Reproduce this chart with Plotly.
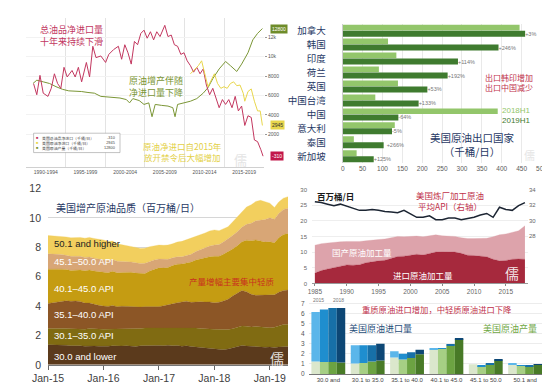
import plotly.graph_objects as go
import pandas as pd

W, H = 550, 389
def fx(p): return p / W
def fy(p): return 1 - p / H

CJK = "Noto Sans CJK SC, Arial"
LAT = "Arial, Liberation Sans, Noto Sans CJK SC"

# ---------------- Panel 1: net imports / production (kb/d) ----------------
red_years = [1990.97, 1991.37, 1991.77, 1992.18, 1992.78, 1993.19, 1993.59, 1993.99, 1994.40, 1994.80,
             1995.20, 1995.81, 1996.21, 1996.61, 1997.02, 1997.62, 1998.02, 1998.43, 1998.83, 1999.44,
             2000.04, 2000.44, 2001.05, 2001.65, 2002.06, 2002.46, 2002.86, 2003.27, 2003.67, 2004.07,
             2004.48, 2004.88, 2005.28, 2005.69, 2006.09, 2006.49, 2006.90, 2007.50, 2007.90, 2008.31,
             2008.71, 2009.11, 2009.52, 2009.92, 2010.32, 2010.73, 2011.13, 2011.53, 2011.94, 2012.34,
             2012.74, 2013.15, 2013.55, 2013.95, 2014.35, 2014.76, 2015.16, 2015.56, 2015.97, 2016.37,
             2016.77, 2017.18, 2017.58, 2017.98, 2018.39, 2018.79, 2019.19, 2019.60, 2019.88]
red_vals = [7200, 6070, 8070, 6230, 5900, 6730, 8230, 7230, 6730, 8900,
            7900, 8570, 7900, 8900, 7400, 9400, 7900, 11070, 9900, 10070,
            9400, 10230, 10730, 11070, 9730, 11230, 10400, 9230, 11570, 11230,
            12400, 12730, 11900, 12570, 11730, 12570, 12070, 13230, 12070, 12230,
            11230, 11070, 10230, 10400, 9570, 9070, 8400, 8900, 8230, 8730,
            7070, 6070, 6730, 5730, 4730, 5570, 5070, 5570, 4730, 5900,
            4400, 4900, 2900, 3900, 3730, 1400, 1230, 400, -270]
green_years = [1990.89, 1991.37, 1992.18, 1992.98, 1993.79, 1994.60, 1995.40, 1996.21, 1997.02, 1997.82,
               1998.63, 1999.44, 2000.24, 2001.05, 2001.85, 2002.66, 2003.06, 2003.47, 2004.27, 2004.88,
               2005.48, 2005.89, 2006.29, 2007.10, 2007.90, 2008.51, 2008.79, 2009.11, 2009.92, 2010.73,
               2011.53, 2012.34, 2012.94, 2013.55, 2014.35, 2015.16, 2015.77, 2016.57, 2017.18, 2017.98,
               2018.59, 2019.19, 2019.80]
green_vals = [7230, 7570, 7400, 7230, 6900, 6630, 6470, 6470, 6400, 6300,
              6230, 5900, 5830, 5730, 5730, 5570, 5230, 5670, 5470, 5070,
              5230, 3800, 5070, 4970, 4900, 4730, 3800, 5070, 5230, 5400,
              5670, 6230, 6800, 7730, 8730, 9500, 9070, 8470, 9230, 10400,
              11730, 12400, 12900]
yellow_years = [2010.73, 2011.33, 2011.73, 2012.14, 2012.54, 2012.94, 2013.35, 2013.75, 2014.15, 2014.56,
                2014.96, 2015.36, 2015.77, 2016.17, 2016.57, 2016.98, 2017.38, 2017.58, 2017.98, 2018.39,
                2018.79, 2019.19, 2019.52, 2019.80]
yellow_vals = [8230, 8730, 9070, 9570, 8230, 6900, 7570, 8230, 7230, 6730,
               6900, 6730, 7230, 7400, 7000, 7070, 6230, 5400, 6400, 6670,
               5400, 4400, 4400, 2900]
p1_periods = ["1990-1994", "1995-1999", "2000-2004", "2005-2009", "2010-2014", "2015-2019"]
p1_period_mid = [1992.5, 1997.5, 2002.5, 2007.5, 2012.5, 2017.5]
p1_names = ["美国总油品净进口（千桶/日）", "美国原油净进口（千桶/日）", "美国原油产量（千桶/日）"]
p1_latest = ["-310", "2945", "12800"]
p1_colors = ["#c2375f", "#e8d64c", "#7b9636"]

# ---------------- Panel 2: US crude exports by destination ----------------
countries = ["加拿大", "韩国", "印度", "荷兰", "英国", "中国台湾", "中国", "意大利", "泰国", "新加坡"]
exp_2018h1 = [445, 114, 135, 91, 139, 82, 390, 131, 28, 35]
exp_2019h1 = [459, 392, 290, 264, 213, 191, 140, 124, 103, 78]
exp_change = ["+3%", "+246%", "+114%", "+192%", "+53%", "+133%", "-64%", "-5%", "+266%", "+125%"]

# ---------------- Panel 3: production by API gravity (mb/d) ----------------
months = pd.date_range("2015-01-01", "2019-05-01", freq="MS")
api_names = ["30.0 and lower", "30.1–35.0 API", "35.1–40.0 API", "40.1–45.0 API", "45.1–50.0 API", "50.1 and higher"]
api_le30 = [1.37, 1.36, 1.34, 1.38, 1.33, 1.30, 1.32, 1.29, 1.27, 1.30, 1.28, 1.26,
            1.25, 1.27, 1.29, 1.26, 1.28, 1.30, 1.27, 1.24, 1.29, 1.31, 1.30, 1.33,
            1.32, 1.30, 1.33, 1.29, 1.31, 1.27, 1.30, 1.25, 1.22, 1.20, 1.18, 1.15,
            1.10, 1.06, 1.03, 1.08, 1.15, 1.22, 1.32, 1.28, 1.25, 1.24, 1.22, 1.20,
            1.21, 1.18, 1.22, 1.25, 1.24]
api_30_35 = [1.10, 1.12, 1.13, 1.11, 1.15, 1.16, 1.14, 1.17, 1.15, 1.18, 1.16, 1.17,
             1.17, 1.15, 1.18, 1.16, 1.19, 1.17, 1.20, 1.22, 1.18, 1.20, 1.21, 1.19,
             1.21, 1.23, 1.20, 1.24, 1.22, 1.25, 1.23, 1.26, 1.28, 1.27, 1.30, 1.29,
             1.32, 1.34, 1.36, 1.33, 1.30, 1.31, 1.32, 1.35, 1.33, 1.36, 1.34, 1.33,
             1.32, 1.38, 1.44, 1.50, 1.52]
api_35_40 = [1.71, 1.75, 1.80, 1.84, 1.88, 1.86, 1.89, 1.85, 1.78, 1.72, 1.66, 1.62,
             1.58, 1.55, 1.57, 1.53, 1.52, 1.50, 1.51, 1.48, 1.46, 1.45, 1.47, 1.44,
             1.43, 1.48, 1.55, 1.62, 1.70, 1.76, 1.80, 1.74, 1.78, 1.82, 1.79, 1.84,
             1.81, 1.86, 1.95, 2.05, 2.23, 2.32, 2.42, 2.35, 2.22, 2.13, 2.18, 2.20,
             2.25, 2.20, 2.28, 2.31, 2.33]
api_40_45 = [2.32, 2.28, 2.22, 2.18, 2.12, 2.10, 2.09, 2.14, 2.20, 2.25, 2.28, 2.30,
             2.32, 2.30, 2.33, 2.31, 2.29, 2.34, 2.32, 2.30, 2.27, 2.25, 2.40, 2.55,
             2.64, 2.58, 2.55, 2.60, 2.62, 2.58, 2.60, 2.75, 2.85, 2.92, 3.00, 3.08,
             3.15, 3.12, 3.18, 3.22, 3.20, 3.25, 3.31, 3.50, 3.65, 3.77, 3.70, 3.62,
             3.59, 3.55, 3.70, 3.81, 3.85]
api_45_50 = [1.05, 1.03, 1.01, 0.99, 0.97, 0.96, 0.95, 0.93, 0.91, 0.89, 0.87, 0.85,
             0.84, 0.82, 0.80, 0.78, 0.75, 0.73, 0.70, 0.71, 0.70, 0.70, 0.66, 0.63,
             0.60, 0.58, 0.55, 0.53, 0.50, 0.49, 0.48, 0.52, 0.58, 0.63, 0.68, 0.72,
             0.77, 0.80, 0.84, 0.88, 0.92, 0.96, 0.99, 1.08, 1.18, 1.30, 1.42, 1.53,
             1.63, 1.60, 1.66, 1.70, 1.72]
api_gt50 = [1.25, 1.24, 1.22, 1.23, 1.25, 1.26, 1.27, 1.29, 1.31, 1.33, 1.34, 1.35,
            1.34, 1.30, 1.25, 1.19, 1.15, 1.10, 1.06, 1.04, 1.02, 1.03, 1.00, 0.97,
            0.95, 0.96, 0.97, 0.96, 1.00, 1.05, 1.10, 1.06, 1.02, 1.00, 1.02, 1.03,
            1.03, 0.95, 0.88, 0.83, 0.92, 1.00, 1.10, 1.18, 1.26, 1.32, 1.33, 1.20,
            1.00, 0.80, 0.78, 0.77, 0.78]
api_colors = ["#5b3a1c", "#806b12", "#8c5626", "#c59c12", "#d8a676", "#f2cf5e"]
api_label_colors = ["white", "white", "white", "white", "white", "#222222"]

# ---------------- Panel 4: refinery crude runs (mb/d) & API ----------------
ref_years = list(range(1985, 2019))
runs_imported = [3.3, 4.1, 4.6, 5.1, 5.6, 5.9, 5.8, 6.0, 6.6, 7.0,
                 7.2, 7.4, 8.1, 8.6, 8.7, 9.0, 9.3, 9.1, 9.6, 10.0,
                 10.1, 10.1, 10.0, 9.6, 9.0, 8.9, 8.8, 8.5, 7.7, 7.2,
                 7.3, 7.7, 7.8, 7.7]
runs_domestic = [8.9, 8.6, 8.3, 8.1, 7.7, 7.5, 7.5, 7.4, 7.0, 6.9,
                 6.8, 6.8, 6.6, 6.4, 6.2, 6.1, 5.8, 5.8, 5.7, 5.5,
                 5.1, 5.1, 5.0, 5.0, 5.3, 5.4, 5.5, 5.9, 7.2, 8.3,
                 8.5, 8.5, 9.0, 10.7]
runs_api = [32.4, 32.3, 32.1, 31.9, 32.1, 31.8, 31.6, 31.3, 31.3, 31.4,
            31.3, 31.15, 31.1, 31.0, 31.3, 30.9, 30.4, 30.4, 30.6, 30.1,
            30.1, 30.3, 30.3, 30.1, 30.3, 30.4, 30.7, 30.9, 30.4, 31.7,
            31.4, 31.3, 31.9, 32.3]

# ---------------- Panel 5: imports vs production by API (mb/d) ----------------
grav_cats = ["30.0 and", "30.1 to 35.0", "35.1 to 40.0", "40.1 to 45.0", "45.1 to 50.0", "50.1 and"]
bar_years = ["2015", "2016", "2017", "2018"]
prod_by_year = [[1.25, 1.05, 1.65, 2.45, 0.97, 1.00],
                [1.20, 1.10, 1.45, 2.50, 0.80, 0.85],
                [1.20, 1.25, 1.60, 2.80, 1.00, 0.80],
                [1.15, 1.35, 1.95, 3.45, 1.35, 0.93]]
imp_by_year = [[4.90, 1.80, 0.60, 0.05, 0.00, 0.02],
               [5.20, 1.75, 0.55, 0.08, 0.07, 0.02],
               [5.35, 1.60, 0.55, 0.12, 0.10, 0.02],
               [5.40, 1.65, 0.45, 0.10, 0.08, 0.02]]
green_shades = ["#dbe7cc", "#a6cf84", "#6ca342", "#487a27"]
blue_shades = ["#5bb6ea", "#1f8ecf", "#1770a8", "#0d4775"]

fig = go.Figure()

# Panel 1 lines
fig.add_trace(go.Scatter(x=green_years, y=green_vals, mode="lines", line=dict(color=p1_colors[2], width=1),
                         xaxis="x", yaxis="y", showlegend=False))
fig.add_trace(go.Scatter(x=red_years, y=red_vals, mode="lines", line=dict(color=p1_colors[0], width=1),
                         xaxis="x", yaxis="y", showlegend=False))
fig.add_trace(go.Scatter(x=yellow_years, y=yellow_vals, mode="lines", line=dict(color=p1_colors[1], width=1),
                         xaxis="x", yaxis="y", showlegend=False))

# Panel 2 bars
fig.add_trace(go.Bar(y=countries, x=exp_2018h1, orientation="h", offset=-0.43, width=0.41,
                     marker=dict(color="#93c66b", line=dict(width=0)), xaxis="x2", yaxis="y2", showlegend=False))
fig.add_trace(go.Bar(y=countries, x=exp_2019h1, orientation="h", offset=0.0, width=0.43,
                     marker=dict(color="#3f7b2f", line=dict(width=0)), text=exp_change, textposition="outside",
                     textfont=dict(size=5.5, color="#777777", family=LAT), cliponaxis=False,
                     xaxis="x2", yaxis="y2", showlegend=False))

# Panel 3 stacked areas
api_series = [api_le30, api_30_35, api_35_40, api_40_45, api_45_50, api_gt50]
for vals, col, name in zip(api_series, api_colors, api_names):
    fig.add_trace(go.Scatter(x=months, y=vals, mode="lines", stackgroup="api", name=name,
                             line=dict(color=col, width=0.3), fillcolor=col,
                             xaxis="x3", yaxis="y3", showlegend=False))

# Panel 4 areas + API line
fig.add_trace(go.Scatter(x=ref_years, y=runs_imported, mode="lines", stackgroup="ref",
                         line=dict(color="#a6293d", width=0.3), fillcolor="#a6293d",
                         xaxis="x4", yaxis="y4", showlegend=False))
fig.add_trace(go.Scatter(x=ref_years, y=runs_domestic, mode="lines", stackgroup="ref",
                         line=dict(color="#dda3ab", width=0.3), fillcolor="#dda3ab",
                         xaxis="x4", yaxis="y4", showlegend=False))
fig.add_trace(go.Scatter(x=ref_years, y=runs_api, mode="lines", line=dict(color="#1c2533", width=1.5),
                         xaxis="x4", yaxis="y5", showlegend=False))

# Panel 5 grouped stacked bars
bw = 0.215
for i in range(4):
    off = -0.43 + bw * i
    fig.add_trace(go.Bar(x=grav_cats, y=prod_by_year[i], offset=off, width=bw,
                         marker=dict(color=green_shades[i], line=dict(width=0)),
                         xaxis="x5", yaxis="y6", showlegend=False))
    fig.add_trace(go.Bar(x=grav_cats, y=imp_by_year[i], base=prod_by_year[i], offset=off, width=bw,
                         marker=dict(color=blue_shades[i], line=dict(width=0)),
                         xaxis="x5", yaxis="y6", showlegend=False))

grid = "#e9e9e9"
fig.update_layout(
    width=W, height=H, margin=dict(l=0, r=0, t=0, b=0),
    paper_bgcolor="white", plot_bgcolor="white", barmode="overlay",
    font=dict(family=LAT, size=7, color="#444444"),
    # panel 1
    xaxis=dict(domain=[fx(2), fx(250)], range=[1990, 2020], tickvals=p1_period_mid, ticktext=p1_periods,
               tickfont=dict(size=5, color="#555555"), showgrid=False, zeroline=False,
               showline=True, linecolor="#d0d0d0", linewidth=1,
               minor=dict(tick0=1990, dtick=5, showgrid=True, gridcolor="#e3e3e3", ticks=""),
               anchor="y"),
    yaxis=dict(domain=[fy(158), fy(4)], range=[-1400, 14000], side="right",
               tickvals=[2000, 4000, 6000, 8000, 10000, 12000],
               tickfont=dict(size=5, color="#555555"), ticks="outside", ticklen=2, tickcolor="#999999",
               showgrid=True, gridcolor="#f2f2f2", zeroline=False, anchor="x"),
    # panel 2
    xaxis2=dict(domain=[fx(332), fx(539)], range=[0, 500], dtick=50, tickfont=dict(size=6.5, color="#5a5a5a"),
                showgrid=True, gridcolor=grid, zeroline=False, anchor="y2"),
    yaxis2=dict(domain=[fy(154), fy(10)], type="category", categoryorder="array", categoryarray=countries,
                range=[9.5, -0.5], tickfont=dict(size=9.5, color="#1f3864", family=CJK),
                ticklabelstandoff=14, showgrid=False, zeroline=False, showline=True,
                linecolor="#cccccc", anchor="x2"),
    # panel 3
    xaxis3=dict(domain=[fx(25), fx(275)], type="date", range=["2015-01-01", "2019-05-01"],
                tickvals=["2015-01-01", "2016-01-01", "2017-01-01", "2018-01-01", "2019-01-01"],
                tickformat="%b-%y", tickfont=dict(size=10.5, color="#404040"),
                ticks="outside", ticklen=4, tickcolor="#666666", showline=True, linecolor="#777777",
                showgrid=False, zeroline=False, anchor="y3"),
    yaxis3=dict(domain=[fy(362), fy(180)], range=[0, 12], dtick=2, tickfont=dict(size=10.5, color="#404040"),
                showgrid=True, gridcolor="#d6d6d6", zeroline=False, ticklabelstandoff=6, anchor="x3"),
    # panel 4
    xaxis4=dict(domain=[fx(300), fx(525)], range=[1984.55, 2018.48], tickvals=[1985, 1990, 1995, 2000, 2005, 2010, 2015],
                tickfont=dict(size=6.5, color="#666666"), ticks="outside", ticklen=2, tickcolor="#888888",
                showline=True, linecolor="#999999", showgrid=False, zeroline=False, anchor="y4"),
    yaxis4=dict(domain=[fy(278), fy(181)], range=[0, 30], dtick=5, tickfont=dict(size=6, color="#666666"),
                showgrid=True, gridcolor="#eeeeee", zeroline=False, ticklabelstandoff=4, anchor="x4"),
    yaxis5=dict(overlaying="y4", side="right", range=[21.875, 34], tickvals=[28, 30, 32, 34],
                tickfont=dict(size=6, color="#666666"), showgrid=False, zeroline=False, anchor="x4"),
    # panel 5
    xaxis5=dict(domain=[fx(296.5), fx(542.5)], type="category", range=[-0.5, 5.5],
                tickfont=dict(size=6, color="#444444"), showline=True, linecolor="#777777",
                showgrid=False, zeroline=False, anchor="y6"),
    yaxis6=dict(domain=[fy(371.5), fy(295)], range=[0, 7.35], dtick=1, tickfont=dict(size=6.5, color="#555555"),
                showgrid=True, gridcolor="#ececec", zeroline=False, ticklabelstandoff=3, anchor="x5"),
)

anns = []
def ann(text, x, y, size, color, xanchor="center", yanchor="middle", family=CJK, align="center", **kw):
    anns.append(dict(text=text, x=fx(x), y=fy(y), xref="paper", yref="paper", showarrow=False, align=align,
                     xanchor=xanchor, yanchor=yanchor, font=dict(size=size, color=color, family=family), **kw))

# Panel 1 texts
ann("总油品净进口量<br>十年来持续下滑", 49, 22.5, 9, "#c2375f")
ann("原油增产伴随<br>净进口量下降", 138, 74.5, 9, "#7b9636")
ann("原油净进口自2015年<br>放开禁令后大幅增加", 165, 141.5, 8.5, "#e3d046")
ann("儒", 226, 150, 13, "#e4e4e4")
# Panel 1 legend box
fig.add_shape(type="rect", xref="paper", yref="paper", x0=fx(10), x1=fx(100), y0=fy(143), y1=fy(123),
              line=dict(color="#9a9a9a", width=0.6), fillcolor="white", layer="above")
ann("<br>".join("<span style='color:%s'>■</span>" % c for c in p1_colors), 14, 133, 3.9, "#444444", family=LAT)
ann("<br>".join(p1_names), 17, 133, 3.9, "#444444", xanchor="left", align="left")
ann("<br>".join(p1_latest), 98, 133, 3.9, "#444444", xanchor="right", align="right", family=LAT)
# Panel 1 latest-value tags
tag_y = [red_vals[-1], yellow_vals[-1], green_vals[-1]]
tag_font = ["white", "#333333", "white"]
tag_bg = ["#c2184a", "#e8d64c", "#6e8c2a"]
for val, yv, fc, bg in zip(p1_latest, tag_y, tag_font, tag_bg):
    anns.append(dict(text=val, x=fx(256), y=yv, xref="paper", yref="y", showarrow=False, xanchor="left",
                     yanchor="middle", font=dict(size=5, color=fc, family=LAT), bgcolor=bg, borderpad=1))

# Panel 2 texts
ann("出口韩印增加<br>出口中国减少", 505, 70.5, 8, "#c0304a")
ann("<span style='color:#93c66b'>2018H1</span><br><span style='color:#3f7b2f'>2019H1</span>",
    513, 105, 8, "#3f7b2f", family=LAT)
ann("美国原油出口国家<br>（千桶/日）", 467, 135, 10.5, "#1f3864")
ann("儒", 527, 145, 11, "#e6e6e6")

# Panel 3 texts
ann("美国增产原油品质（百万桶/日）", 31, 200, 10, "#1f3864", xanchor="left")
for nm, yy, col in zip(api_names[::-1], [237, 255, 283, 310, 332, 353], api_label_colors[::-1]):
    ann(nm, 29, yy, 9.5, col, xanchor="left", family=LAT)
ann("产量增幅主要集中轻质", 217, 275, 8.5, "#c8321e")
ann("儒", 264, 355, 14, "rgba(255,255,255,0.85)")

# Panel 4 texts
ann("<b>百万桶/日</b>", 303, 188, 8.5, "#1a1a1a", xanchor="left")
ann("美国炼厂加工原油<br>平均API（右轴）", 444, 192.5, 8.5, "#c0304a")
ann("国产原油加工量", 352, 246, 8.5, "white")
ann("进口原油加工量", 416, 269, 8.5, "white")
ann("儒", 508, 267, 14, "rgba(255,255,255,0.9)")

# Panel 5 texts
ann(bar_years[0], 307, 295, 5, "#777777", family=LAT)
ann(bar_years[3], 328, 295, 5, "#777777", family=LAT)
ann("重质原油进口增加，中轻质原油进口下降", 430, 304, 8.3, "#c0304a")
ann("美国原油进口量", 371, 325, 9, "#1f4e79")
ann("美国原油产量", 506, 325, 9, "#6fa745")

fig.update_layout(annotations=anns)
fig.write_html("out.html")
